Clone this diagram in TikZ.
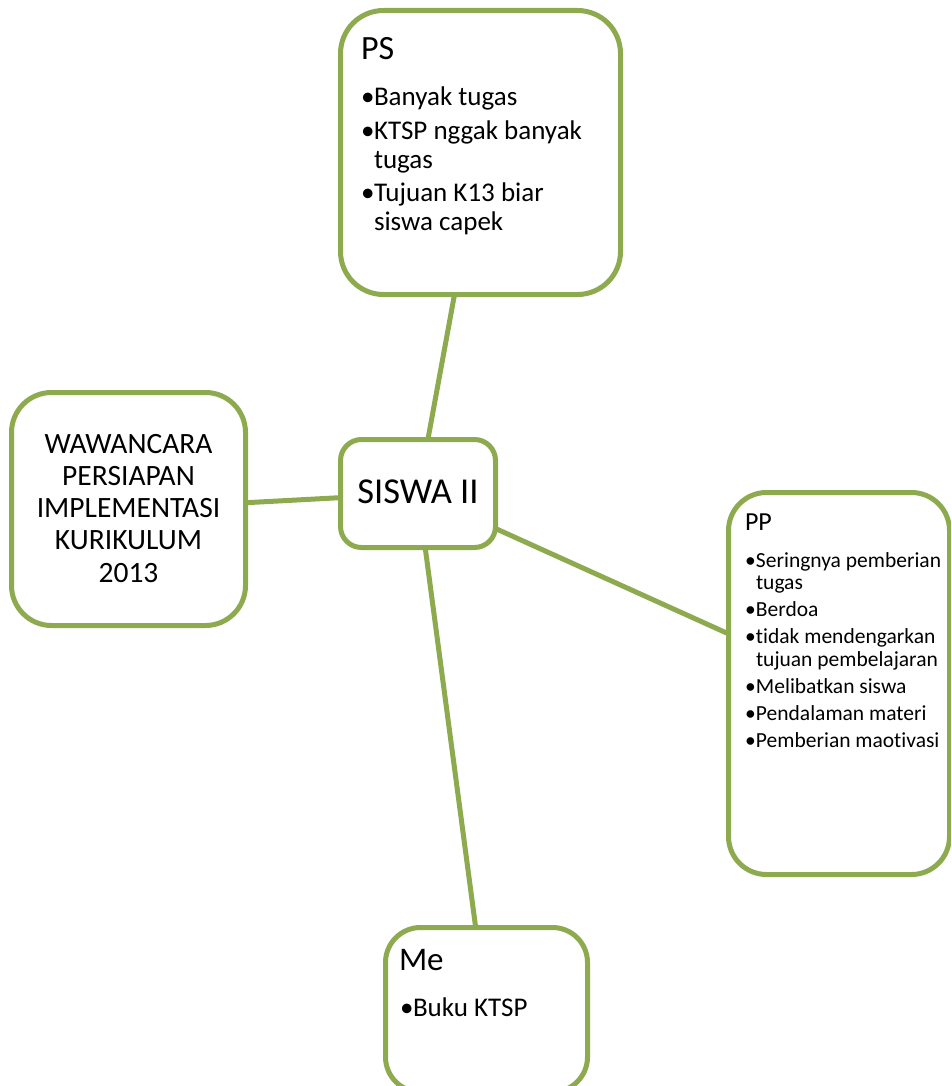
\documentclass[tikz,border=0pt]{standalone}
\usepackage{fontspec}
\setmainfont[Ligatures={NoCommon}]{Carlito}
\definecolor{boxgreen}{RGB}{141,170,79}
\newcommand\bitem[2]{\par\hangindent=#1\hangafter=1\noindent\makebox[#1][l]{\textbullet}#2}
\begin{document}
\begin{tikzpicture}[x=1pt,y=-1pt,
  box/.style={draw=boxgreen, line width=5pt, inner sep=0pt, outer sep=0pt, fill=white},
  conn/.style={draw=boxgreen, line width=5pt},
  txt/.style={inner sep=0pt, outer sep=0pt, anchor=base west, text=black},
  ctxt/.style={inner sep=0pt, outer sep=0pt, anchor=base, text=black}]
\useasboundingbox (0,0) rectangle (951,1086);
\clip (0,0) rectangle (951,1086);
% boxes
\node[box, minimum width=280pt, minimum height=284pt, rounded corners=43pt] (ps) at (480.5,152.5) {};
\node[box, minimum width=234pt, minimum height=233pt, rounded corners=40pt] (waw) at (128.5,509) {};
\node[box, minimum width=155pt, minimum height=108pt, rounded corners=21pt] (siswa) at (418,493.5) {};
\node[box, minimum width=221pt, minimum height=382pt, rounded corners=38pt] (pp) at (839,683.5) {};
\node[box, minimum width=202pt, minimum height=164.5pt, rounded corners=35pt] (me) at (486.5,1009.75) {};
% connectors
\draw[conn] (ps) -- (siswa);
\draw[conn] (waw) -- (siswa);
\draw[conn] (siswa) -- (pp);
\draw[conn] (siswa) -- (me);
% texts
\node[txt] (pst) at (361,60) {\fontsize{34pt}{40pt}\selectfont PS};
\node[txt] (psl) at (361,106) {\vtop{\hsize=250pt\parindent=0pt\fontsize{27pt}{29pt}\selectfont\parskip=4.5pt
  \bitem{13pt}{Banyak tugas}
  \bitem{13pt}{KTSP nggak banyak\newline tugas}
  \bitem{13pt}{Tujuan K13 biar\newline siswa capek}\par}};
\node[ctxt] (wawt) at (128.5,453) {\vtop{\hsize=230pt\parindent=0pt\fontsize{29.5pt}{32.3pt}\selectfont\centering
  WAWANCARA\\PERSIAPAN\\IMPLEMENTASI\\KURIKULUM\\2013\par}};
\node[ctxt] (siswat) at (418,503) {\fontsize{36.5pt}{43pt}\selectfont SISWA II};
\node[txt] (ppt) at (745,530) {\fontsize{26pt}{30pt}\selectfont PP};
\node[txt] (ppl) at (745,567) {\vtop{\hsize=200pt\parindent=0pt\fontsize{21.5pt}{22.5pt}\selectfont\parskip=4.5pt
  \bitem{11pt}{Seringnya pemberian\newline tugas}
  \bitem{11pt}{Berdoa}
  \bitem{11pt}{tidak mendengarkan\newline tujuan pembelajaran}
  \bitem{11pt}{Melibatkan siswa}
  \bitem{11pt}{Pendalaman materi}
  \bitem{11pt}{Pemberian maotivasi}\par}};
\node[txt] (met) at (399,970) {\fontsize{33pt}{39pt}\selectfont Me};
\node[txt] (mel) at (400,1016) {\vtop{\hsize=180pt\parindent=0pt\fontsize{27pt}{29pt}\selectfont
  \bitem{13pt}{Buku KTSP}\par}};
\end{tikzpicture}
\end{document}
